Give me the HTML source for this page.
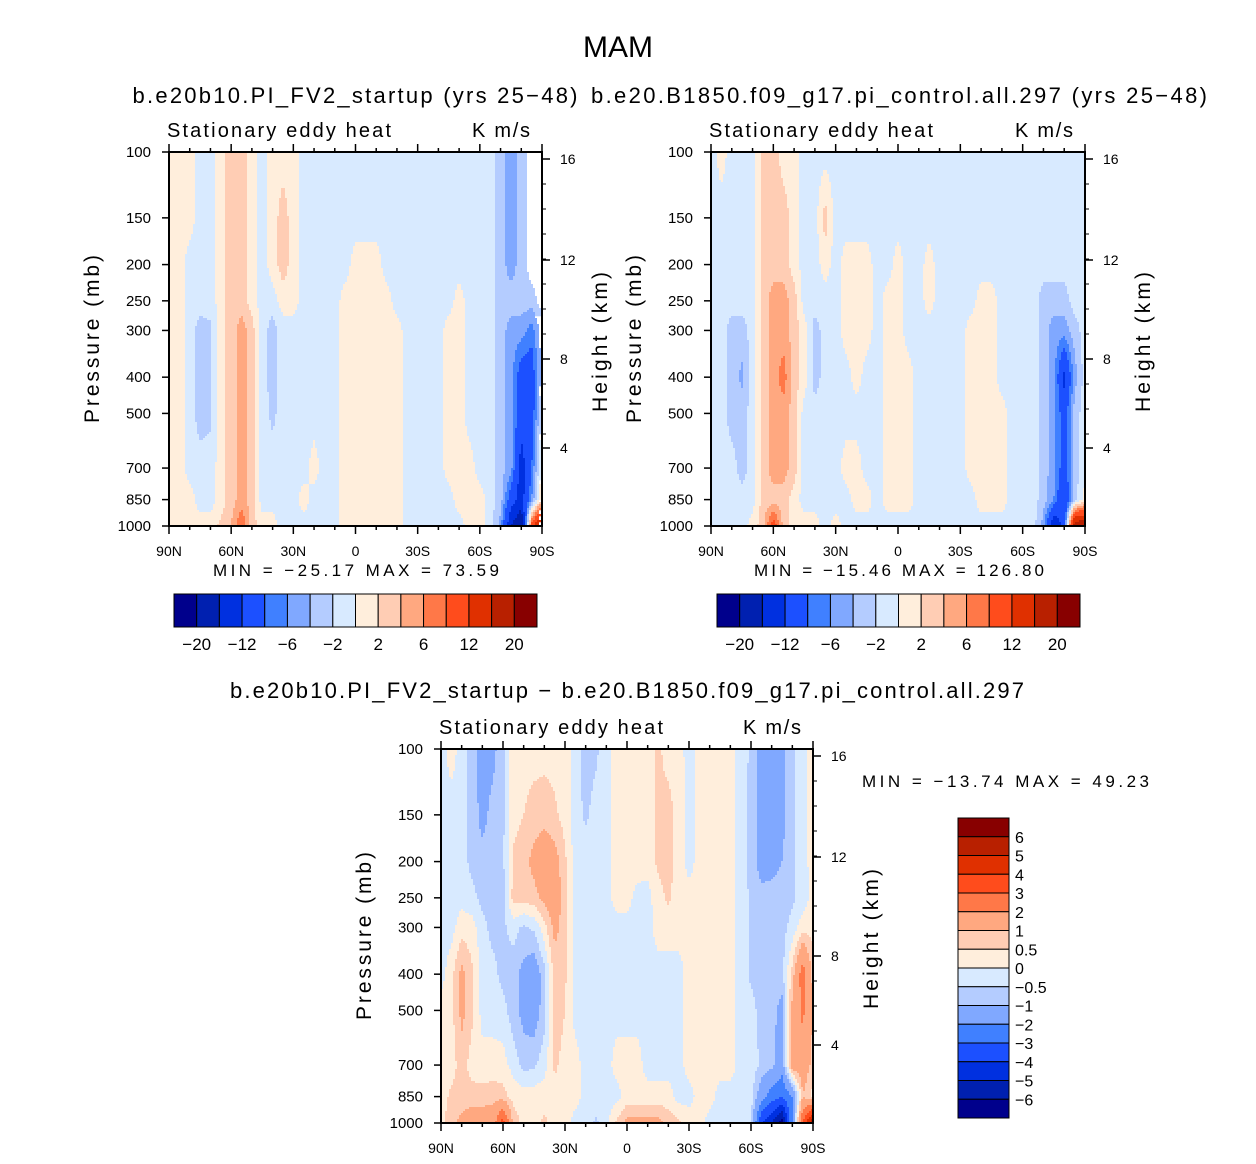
<!DOCTYPE html>
<html><head><meta charset="utf-8">
<style>
body{margin:0;background:#fff;}
svg text{font-family:"Liberation Sans",sans-serif;fill:#000;}
</style></head>
<body>
<svg id="chart" width="1256" height="1159" viewBox="0 0 1256 1159" xmlns="http://www.w3.org/2000/svg">
<rect width="1256" height="1159" fill="#fff"/>
<text x="618" y="57" font-size="30" text-anchor="middle" textLength="70" lengthAdjust="spacingAndGlyphs">MAM</text>
<text x="355" y="103" font-size="22" text-anchor="middle" textLength="445" lengthAdjust="spacing">b.e20b10.PI_FV2_startup (yrs 25−48)</text>
<text x="899" y="103" font-size="22" text-anchor="middle" textLength="616" lengthAdjust="spacing">b.e20.B1850.f09_g17.pi_control.all.297 (yrs 25−48)</text>
<text x="627" y="698" font-size="22" text-anchor="middle" textLength="794" lengthAdjust="spacing">b.e20b10.PI_FV2_startup − b.e20.B1850.f09_g17.pi_control.all.297</text>
<g id="layers"></g>
</svg>
<script>
const lats = [];
for (let i = 0; i <= 36; i++) lats.push(90 - 5 * i);
const levels = [100,150,200,250,300,400,500,700,850,1000];
const latTicks = [90,60,30,0,-30,-60,-90];
const latTickLabels = ["90N","60N","30N","0","30S","60S","90S"];
const heightTicks = [16,12,8,4];
const colors = ["#00008c","#0020b0","#0030e0","#1c50ff","#4080ff","#80a8ff","#b4ccff","#d8eaff","#ffeedc","#ffcdb4","#ffa880","#ff7848","#ff4c1c","#e03000","#b82000","#880000"];
const bounds12 = [-20,-16,-12,-8,-6,-4,-2,0,2,4,6,8,12,16,20];
const bounds3 = [-6,-5,-4,-3,-2,-1,-0.5,0,0.5,1,2,3,4,5,6];
const barLabels12 = ["−20","","−12","","−6","","−2","","2","","6","","12","","20"];
const barLabels3 = ["6","5","4","3","2","1","0.5","0","−0.5","−1","−2","−3","−4","−5","−6"];

const field1 = [
[1,1,1,1,1,1,1,1,1,1],[1,1,1,1,1,1,1,1,1,1],[1,1,-1,-1,-1,-1,-1,-1,1,1],
[-1,-1,-1,-1,-3,-3,-3,-1,-1,1],[-1,-1,-1,-1,-2.5,-2.5,-2.5,-1,-1,1],[1,1,1,1,1,1,1,1,1,2.5],
[3,3,3,3,3,3,3,3,3,4],[3,3,3,3,5,5,5,5,5,8],[1,1,1,1,3,3,3,3,3,3],
[-1,-1,-1,-1,-1,-1,-1,-1,-1,1],[1,1,1,-1,-3,-3,-2.5,-1,-1,1],[1,3,3,1,-1,-1,-1,-1,-1,-1],
[1,1,1,1,-1,-1,-1,-1,-1,-1],[-1,-1,-1,-1,-1,-1,-1,-1,1,-1],[-1,-1,-1,-1,-1,-1,-1,1,-1,-1],
[-1,-1,-1,-1,-1,-1,-1,-1,-1,-1],[-1,-1,-1,-1,-1,-1,-1,-1,-1,-1],[-1,-1,-1,1,1,1,1,1,1,1],
[-1,-1,1,1,1,1,1,1,1,1],[-1,-1,1,1,1,1,1,1,1,1],[-1,-1,1,1,1,1,1,1,1,1],
[-1,-1,-1,1,1,1,1,1,1,1],[-1,-1,-1,-1,1,1,1,1,1,1],[-1,-1,-1,-1,-1,-1,-1,-1,-1,-1],
[-1,-1,-1,-1,-1,-1,-1,-1,-1,-1],[-1,-1,-1,-1,-1,-1,-1,-1,-1,-1],[-1,-1,-1,-1,-1,-1,-1,-1,-1,-1],
[-1,-1,-1,-1,1,1,1,1,-1,-1],[-1,-1,-1,1,1,1,1,1,1,-1],[-1,-1,-1,-1,-1,-1,-1,1,1,1],
[-1,-1,-1,-1,-1,-1,-1,-1,1,1],[-1,-1,-1,-1,-1,-1,-1,-1,-1,-1],[-3,-3,-3,-3,-3,-3,-3,-3,-3,-5],
[-5,-5,-5,-3,-5,-5,-5,-5,-10,-16],[-3,-3,-3,-3,-5,-10,-10,-14,-14,-20],[-1,-1,-1,-3,-7,-10,-10,-8,-6,10],
[-1,-1,-1,-1,-3,-3,-1,1,3,20]];
const field2 = [
[-1,-1,-1,-1,-1,-1,-1,-1,-1,-1],[1,-1,-1,-1,-1,-1,-1,-1,-1,-1],[-1,-1,-1,-1,-3,-3,-3,-1,-1,-1],
[-1,-1,-1,-1,-3,-4.5,-3,-3,-1,-1],[-1,-1,-1,-1,-1,-1,-1,-1,-1,1],[3,3,3,3,3,3,3,3,3,3],
[3,3,3,5,5,5,5,5,3,10],[1,3,3,5,5,7,5,5,3,3],[1,1,1,3,3,3,3,3,1,1],
[-1,-1,-1,-1,1,1,-1,-1,-1,1],[-1,-1,-1,-1,-3,-3,-1,-1,-1,1],[-1,3,1,-1,-1,-1,-1,-1,-1,-1],
[-1,-1,-1,-1,-1,-1,-1,-1,-1,1],[-1,-1,1,1,1,-1,-1,1,-1,-1],[-1,-1,1,1,1,1,-1,1,1,-1],
[-1,-1,1,1,1,-1,-1,-1,1,-1],[-1,-1,-1,-1,-1,-1,-1,-1,-1,-1],[-1,-1,-1,1,1,1,1,1,1,-1],
[-1,-1,1,1,1,1,1,1,1,-1],[-1,-1,-1,-1,-1,1,1,1,1,-1],[-1,-1,-1,-1,-1,-1,-1,-1,-1,-1],
[-1,-1,1,1,-1,-1,-1,-1,-1,-1],[-1,-1,-1,-1,-1,-1,-1,-1,-1,-1],[-1,-1,-1,-1,-1,-1,-1,-1,-1,-1],
[-1,-1,-1,-1,-1,-1,-1,-1,-1,-1],[-1,-1,-1,-1,1,1,1,1,-1,-1],[-1,-1,-1,1,1,1,1,1,1,-1],
[-1,-1,-1,1,1,1,1,1,1,-1],[-1,-1,-1,-1,-1,-1,1,1,1,-1],[-1,-1,-1,-1,-1,-1,-1,-1,-1,-1],
[-1,-1,-1,-1,-1,-1,-1,-1,-1,-1],[-1,-1,-1,-1,-1,-1,-1,-1,-1,-1],[-1,-1,-1,-3,-3,-3,-3,-3,-3,-5],
[-1,-1,-1,-3,-5,-5,-5,-5,-6,-16],[-1,-1,-1,-3,-5,-13,-10,-10,-12,-10],[-1,-1,-1,-1,-3,-5,-3,-3,-3,20],
[-1,-1,-1,-1,-1,-1,-1,-1,1,20]];
const field3 = [
[-0.2,-0.2,-0.2,-0.2,-0.2,-0.2,0.2,0.3,0.3,0.3],[0.2,-0.2,-0.2,-0.2,-0.2,0.3,0.3,0.3,0.6,0.8],
[-0.2,-0.2,-0.2,-0.2,0.3,1.2,1.2,0.7,0.7,1.2],[-0.7,-0.7,-0.7,-0.3,0.2,0.6,0.6,0.3,0.7,1.5],
[-1.3,-1.2,-0.8,-0.7,-0.3,-0.2,-0.2,0.2,0.7,1.5],[-1.2,-0.8,-0.7,-0.7,-0.7,-0.3,-0.2,0.2,0.8,1.5],
[-0.6,-0.6,-0.6,-0.7,-0.6,-0.7,-0.3,0.2,0.7,3.5],[0.3,0.3,0.6,0.7,-0.3,-0.8,-0.8,-0.2,0.3,0.8],
[0.3,0.5,0.8,0.7,-0.6,-1.2,-1.2,-0.7,0.3,0.3],[0.3,0.7,1.2,0.8,-0.4,-1.5,-1.4,-0.6,0.3,0.3],
[0.3,0.8,1.5,1.2,0.3,-0.7,-0.7,-0.2,0.3,0.6],[0.3,0.6,1.3,1.5,1.2,0.7,0.8,0.6,0.3,0.3],
[0.2,0.3,0.6,0.7,0.7,0.6,0.5,0.3,0.2,0.2],[-0.2,-0.3,-0.2,-0.2,-0.2,-0.2,-0.2,0.2,0.2,-0.2],
[-0.7,-0.6,-0.2,-0.2,-0.2,-0.4,-0.2,-0.2,-0.2,-0.2],[-0.6,-0.3,-0.2,-0.2,-0.2,-0.2,-0.2,-0.2,-0.2,-0.6],
[-0.2,-0.2,-0.2,-0.2,-0.2,-0.2,-0.2,-0.2,-0.2,-0.2],[0.2,0.2,0.2,0.2,-0.2,-0.2,-0.2,0.2,-0.2,0.6],
[0.2,0.2,0.2,0.2,-0.2,-0.2,-0.2,0.2,0.2,1.2],[0.2,0.2,0.3,-0.2,-0.2,-0.2,-0.2,0.2,0.2,1.2],
[0.3,0.3,0.2,-0.2,-0.2,-0.2,-0.2,-0.2,0.2,1.2],[0.6,0.6,0.6,0.3,0.2,-0.2,-0.2,-0.2,0.2,1.2],
[0.3,0.7,0.7,0.6,0.2,-0.2,-0.2,-0.2,0.2,0.8],[0.2,0.3,0.3,0.2,0.2,-0.2,-0.2,-0.2,-0.2,0.6],
[-0.2,-0.2,-0.2,0.2,0.2,0.2,0.2,0.2,-0.2,0.3],[0.2,0.2,0.2,0.2,0.2,0.2,0.2,0.2,0.2,0.2],
[0.2,0.2,0.2,0.2,0.2,0.2,0.2,0.2,0.2,-0.2],[0.2,0.2,0.2,0.2,0.2,0.2,0.2,0.2,-0.2,-0.2],
[0.2,0.2,0.2,0.2,0.2,0.2,0.2,0.2,-0.2,-0.2],[-0.2,-0.2,-0.2,-0.2,-0.2,-0.2,-0.2,-0.2,-0.2,-0.2],
[-0.6,-0.7,-0.7,-0.6,-0.6,-0.6,-0.3,-0.2,-0.3,-0.3],[-1.3,-1.3,-1.3,-0.8,-0.7,-0.7,-0.7,-0.6,-1.5,-4],
[-1.4,-1.4,-1.2,-0.8,-0.7,-0.7,-0.8,-0.8,-2.5,-5],[-1.2,-1.2,-1.0,-0.8,-0.7,-0.7,-1.2,-1.5,-3,-6.5],
[-0.6,-0.6,-0.6,-0.6,-0.3,0.7,1.2,1.5,-2,-2],[-0.2,-0.2,-0.2,-0.3,0.3,2.5,2.2,1.5,1,3],
[0.2,0.2,0.2,0.2,0.3,0.8,1.0,0.8,0.3,6]];

const NS = "http://www.w3.org/2000/svg";
const root = document.getElementById("layers");
function mk(tag, attrs, parent) {
  const e = document.createElementNS(NS, tag);
  for (const k in attrs) e.setAttribute(k, attrs[k]);
  (parent || root).appendChild(e);
  return e;
}
function txt(s, x, y, size, anchor, parent, len) {
  const a = {x: x, y: y, "font-size": size, "text-anchor": anchor || "middle"};
  if (len) { a.textLength = len; a.lengthAdjust = "spacing"; }
  const t = mk("text", a, parent);
  t.textContent = s;
  return t;
}
function colorFor(v, b) {
  let i = 0;
  while (i < b.length && v >= b[i]) i++;
  return colors[i];
}

function drawPanel(p) {
  const g = mk("g", {});
  
  
  const {x0, y0, w, h} = p;
  const xOf = lat => x0 + (90 - lat) / 180 * w;
  const yOf = pr => y0 + (Math.log10(pr) - 2) * h;
  const latIdx = x => (x - x0) / w * 36;
  const lvlLog = levels.map(l => Math.log10(l));
  function val(x, y) {
    const fi = Math.max(0, Math.min(35.999, latIdx(x)));
    const i0 = Math.floor(fi), tx = fi - i0;
    const lp = 2 + (y - y0) / h;
    let j = 0;
    while (j < levels.length - 2 && lp > lvlLog[j + 1]) j++;
    let ty = (lp - lvlLog[j]) / (lvlLog[j + 1] - lvlLog[j]);
    ty = Math.max(0, Math.min(1, ty));
    const f = p.field;
    const a = f[i0][j] * (1 - ty) + f[i0][j + 1] * ty;
    const b = f[i0 + 1][j] * (1 - ty) + f[i0 + 1][j + 1] * ty;
    return a * (1 - tx) + b * tx;
  }
  const fill = mk("g", {}, g);
  
  
  const step = 2;
  for (let yy = y0; yy < y0 + h; yy += step) {
    let runStart = x0, runColor = null;
    for (let xx = x0; xx <= x0 + w; xx += step) {
      const c = xx < x0 + w ? colorFor(val(xx + step / 2, yy + step / 2), p.bounds) : null;
      if (c !== runColor) {
        if (runColor) {
          const r = mk("rect", {x: runStart, y: yy, width: Math.min(xx, x0 + w) - runStart, height: Math.min(step, y0 + h - yy) + 0.3, fill: runColor}, fill);
          
          
        }
        runStart = xx; runColor = c;
      }
    }
  }
  const frame = mk("rect", {x: x0, y: y0, width: w, height: h, fill: "none", stroke: "#000", "stroke-width": 2}, g);
  
  
  for (let lat = 90; lat >= -90; lat -= 10) {
    const x = xOf(lat), major = lat % 30 === 0, L = major ? 8 : 4;
    mk("line", {x1: x, x2: x, y1: y0 + h, y2: y0 + h + L, stroke: "#000", "stroke-width": 1.5}, g);
    mk("line", {x1: x, x2: x, y1: y0, y2: y0 - L, stroke: "#000", "stroke-width": 1.5}, g);
  }
  latTicks.forEach((lat, i) => {
    const t = txt(latTickLabels[i], xOf(lat), y0 + h + 30, 14, "middle", g);
    
    
  });
  levels.forEach(l => {
    const y = yOf(l);
    mk("line", {x1: x0 - 7, x2: x0, y1: y, y2: y, stroke: "#000", "stroke-width": 1.5}, g);
    const t = txt(String(l), x0 - 18, y + 5, 15, "end", g);
    
    
  });
  const hy = {16: 7, 12: 108, 8: 207, 4: 296};
  heightTicks.forEach(km => {
    const y = y0 + hy[km] * h / 374;
    mk("line", {x1: x0 + w, x2: x0 + w + 8, y1: y, y2: y, stroke: "#000", "stroke-width": 1.5}, g);
    const t = txt(String(km), x0 + w + 18, y + 5, 14, "start", g);
    
    
  });
  for (let y = y0 + 7; y < y0 + 296; y += 25) {
    mk("line", {x1: x0 + w, x2: x0 + w + 4, y1: y, y2: y, stroke: "#000", "stroke-width": 1}, g);
  }
  const t1 = txt("Stationary eddy heat", x0 - 2, y0 - 15, 20, "start", g, 224);
  
  
  const t2 = txt("K m/s", x0 + w - 12, y0 - 15, 20, "end", g, 58);
  
  
  const yl = txt("Pressure (mb)", 0, 0, 21, "middle", g, 168);
  yl.setAttribute("transform", `translate(${x0 - 70},${y0 + h / 2}) rotate(-90)`);
  
  
  const hl = txt("Height (km)", 0, 0, 21, "middle", g, 140);
  hl.setAttribute("transform", `translate(${x0 + w + 65},${y0 + h / 2 + 3}) rotate(-90)`);
  
  
}

drawPanel({name: "panel1", x0: 169, y0: 152, w: 373, h: 374, field: field1, bounds: bounds12});
drawPanel({name: "panel2", x0: 711, y0: 152, w: 374, h: 374, field: field2, bounds: bounds12});
drawPanel({name: "panel3", x0: 441, y0: 749, w: 372, h: 374, field: field3, bounds: bounds3});

function hbar(name, x0, y0, w, h) {
  const g = mk("g", {});
  
  
  const bw = w / colors.length;
  colors.forEach((c, i) => {
    const r = mk("rect", {x: x0 + i * bw, y: y0, width: bw, height: h, fill: c, stroke: "#000", "stroke-width": 1}, g);
    
    
  });
  barLabels12.forEach((s, k) => {
    if (!s) return;
    const t = txt(s, x0 + (k + 1) * bw, y0 + h + 23, 17, "middle", g);
    
    
  });
}
hbar("colorbar-panel1", 174, 594, 363, 33);
hbar("colorbar-panel2", 717, 594, 363, 33);

(function vbar() {
  const g = mk("g", {});
  
  
  const x0 = 958, y0 = 818, w = 51, h = 300, bh = h / colors.length;
  colors.slice().reverse().forEach((c, i) => {
    const r = mk("rect", {x: x0, y: y0 + i * bh, width: w, height: bh, fill: c, stroke: "#000", "stroke-width": 1}, g);
    
    
  });
  barLabels3.forEach((s, k) => {
    const t = txt(s, x0 + w + 6, y0 + (k + 1) * bh + 6, 16, "start", g);
    
    
  });
})();

const m1 = txt("MIN =  −25.17   MAX =  73.59", 356, 576, 17, "middle", null, 286);


const m2 = txt("MIN =  −15.46   MAX =  126.80", 899, 576, 17, "middle", null, 290);


const m3 = txt("MIN =  −13.74   MAX =   49.23", 862, 787, 17, "start", null, 287);


</script>
</body></html>
